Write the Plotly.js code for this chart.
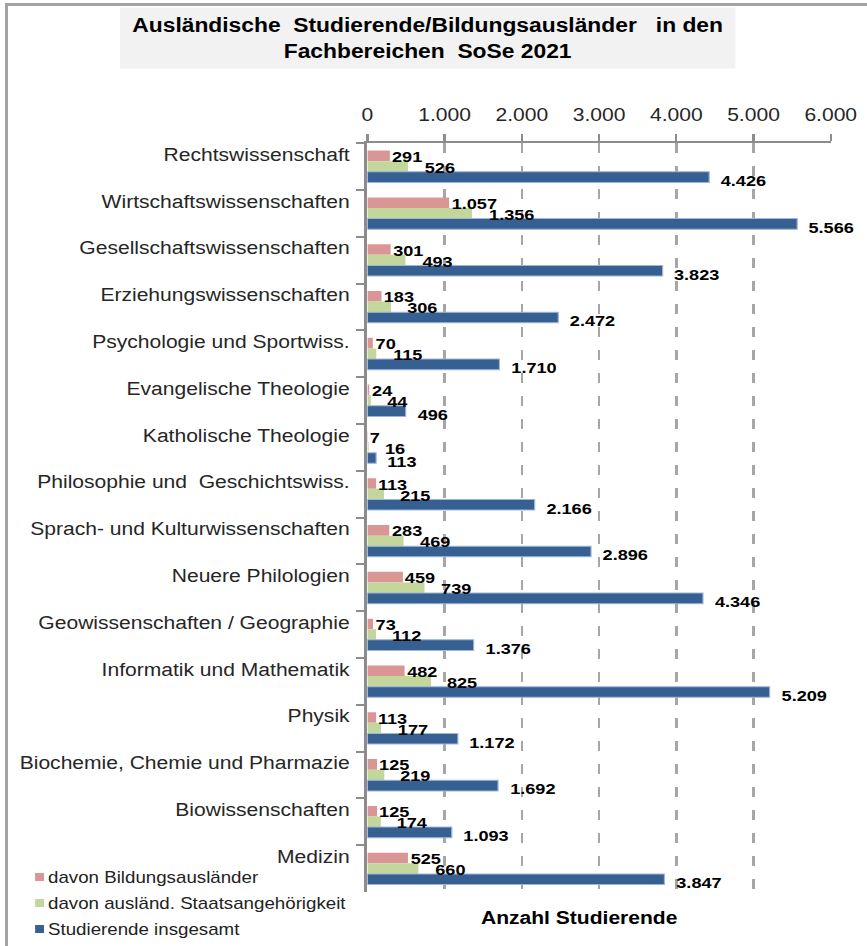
<!DOCTYPE html>
<html>
<head>
<meta charset="utf-8">
<script src="https://cdn.plot.ly/plotly-3.0.1.min.js"></script>
<style>
  html, body { margin: 0; padding: 0; background: #fff; overflow: hidden; }
  #wrap { position: absolute; left: 0; top: 0; width: 867px; height: 946px; overflow: hidden; }
  #chart { position: absolute; left: 0; top: 0; width: 741px; height: 946px; transform: scaleX(1.17004); transform-origin: 0 0; }
  #frame { position: absolute; left: 5px; top: 3px; width: 900px; height: 1000px; border-left: 3px solid #a3a3a3; border-top: 3px solid #a3a3a3; pointer-events: none; }
</style>
</head>
<body>
<div id="wrap"><div id="chart"></div><div id="frame"></div></div>
<script>
// ---- data ----
const categories = [
  "Rechtswissenschaft",
  "Wirtschaftswissenschaften",
  "Gesellschaftswissenschaften",
  "Erziehungswissenschaften",
  "Psychologie und Sportwiss.",
  "Evangelische Theologie",
  "Katholische Theologie",
  "Philosophie und\u00a0 Geschichtswiss.",
  "Sprach- und Kulturwissenschaften",
  "Neuere Philologien",
  "Geowissenschaften / Geographie",
  "Informatik und Mathematik",
  "Physik",
  "Biochemie, Chemie und Pharmazie",
  "Biowissenschaften",
  "Medizin"
];
const bildungsauslaender = [291, 1057, 301, 183, 70, 24, 7, 113, 283, 459, 73, 482, 113, 125, 125, 525];
const auslStaatsangehoerigkeit = [526, 1356, 493, 306, 115, 44, 16, 215, 469, 739, 112, 825, 177, 219, 174, 660];
const studierendeInsgesamt = [4426, 5566, 3823, 2472, 1710, 496, 113, 2166, 2896, 4346, 1376, 5209, 1172, 1692, 1093, 3847];
const seriesNames = ["davon Bildungsausländer", "davon ausländ. Staatsangehörigkeit", "Studierende insgesamt"];
const seriesColors = ["#d99694", "#c3d69b", "#376092"];
const xTickVals = [0, 1000, 2000, 3000, 4000, 5000, 6000];
const titleText = "Ausländische\u00a0 Studierende/Bildungsausländer\u00a0\u00a0 in den<br>Fachbereichen\u00a0 SoSe 2021";
const xTitleText = "Anzahl Studierende";

// ---- layout geometry (unscaled px) ----
const W = 741, H = 946;
const M = {l: 314, r: 31, t: 143, b: 54};
const PW = W - M.l - M.r, PH = H - M.t - M.b;
const px = x => (x - M.l) / PW;
const py = y => (H - M.b - y) / PH;

const FONT = '"Liberation Sans", Arial, sans-serif';

const allSeries = [bildungsauslaender, auslStaatsangehoerigkeit, studierendeInsgesamt];

const traces = allSeries.map((vals, i) => ({
  type: 'bar',
  orientation: 'h',
  name: seriesNames[i],
  x: vals,
  y: categories,
  marker: {color: seriesColors[i], line: {width: i === 2 ? 1 : 0, color: '#9fb6d6'}},
  hoverinfo: 'skip',
  showlegend: false
}));

function fmt(v) {
  return String(v).replace(/\B(?=(\d{3})+(?!\d))/g, '.');
}

const labelShift = [{x: 1, y: 10}, {x: 13, y: -1}, {x: 9, y: -14}];
const annotations = [];
allSeries.forEach((vals, s) => {
  vals.forEach((v, i) => {
    annotations.push({
      x: v, y: categories[i], xref: 'x', yref: 'y',
      text: fmt(v), showarrow: false,
      xanchor: 'left', yanchor: 'middle',
      xshift: labelShift[s].x, yshift: labelShift[s].y,
      borderpad: 0,
      font: {family: FONT, size: 15.5, color: '#000', weight: 'bold'}
    });
  });
});

// title box
annotations.push({
  xref: 'paper', yref: 'paper',
  x: px(365.4), y: py(7), xanchor: 'center', yanchor: 'top',
  text: titleText, showarrow: false,
  width: 525, height: 60, bgcolor: '#f2f2f2', borderpad: 0,
  align: 'center', valign: 'middle',
  font: {family: FONT, size: 19.5, color: '#000', weight: 'bold'}
});
// axis title
annotations.push({
  xref: 'paper', yref: 'paper',
  x: px(495), y: py(918), xanchor: 'center', yanchor: 'middle',
  text: xTitleText, showarrow: false,
  font: {family: FONT, size: 18, color: '#000', weight: 'bold'}
});

// custom legend
const shapes = [];
const legendY = [877, 903, 929];
seriesNames.forEach((n, i) => {
  shapes.push({
    type: 'rect', xref: 'paper', yref: 'paper',
    x0: px(30), x1: px(37.6), y0: py(legendY[i] + 4), y1: py(legendY[i] - 4),
    fillcolor: seriesColors[i], line: {width: 0}
  });
  annotations.push({
    xref: 'paper', yref: 'paper',
    x: px(39.5), y: py(legendY[i]), xanchor: 'left', yanchor: 'middle',
    text: n, showarrow: false, borderpad: 0,
    font: {family: FONT, size: 16, color: '#222'}
  });
});

const layout = {
  width: W, height: H,
  margin: M,
  paper_bgcolor: '#fff', plot_bgcolor: '#fff',
  separators: ',.',
  barmode: 'group', bargap: 0.32, bargroupgap: 0,
  showlegend: false,
  font: {family: FONT, size: 18, color: '#262626'},
  xaxis: {
    side: 'top', range: [0, 6000], tickvals: xTickVals, tickformat: ',d',
    showgrid: true, gridcolor: '#a6a6a6', gridwidth: 2.2, griddash: '10px,13px',
    zeroline: false,
    showline: true, linecolor: '#8c8c8c', linewidth: 2.2,
    ticks: 'outside', ticklen: 7, tickwidth: 2, tickcolor: '#8c8c8c',
    ticklabelstandoff: 6,
    tickfont: {family: FONT, size: 18, color: '#262626'},
    fixedrange: true
  },
  yaxis: {
    autorange: 'reversed', type: 'category',
    showline: true, linecolor: '#8c8c8c', linewidth: 2.6,
    ticks: 'outside', tickson: 'boundaries', ticklen: 7, tickwidth: 2, tickcolor: '#8c8c8c',
    ticklabelstandoff: 9, ticklabelshift: 12,
    showgrid: false, zeroline: false,
    tickfont: {family: FONT, size: 18, color: '#262626'},
    fixedrange: true
  },
  annotations: annotations,
  shapes: shapes
};

Plotly.newPlot('chart', traces, layout, {displayModeBar: false, staticPlot: true});
</script>
</body>
</html>
